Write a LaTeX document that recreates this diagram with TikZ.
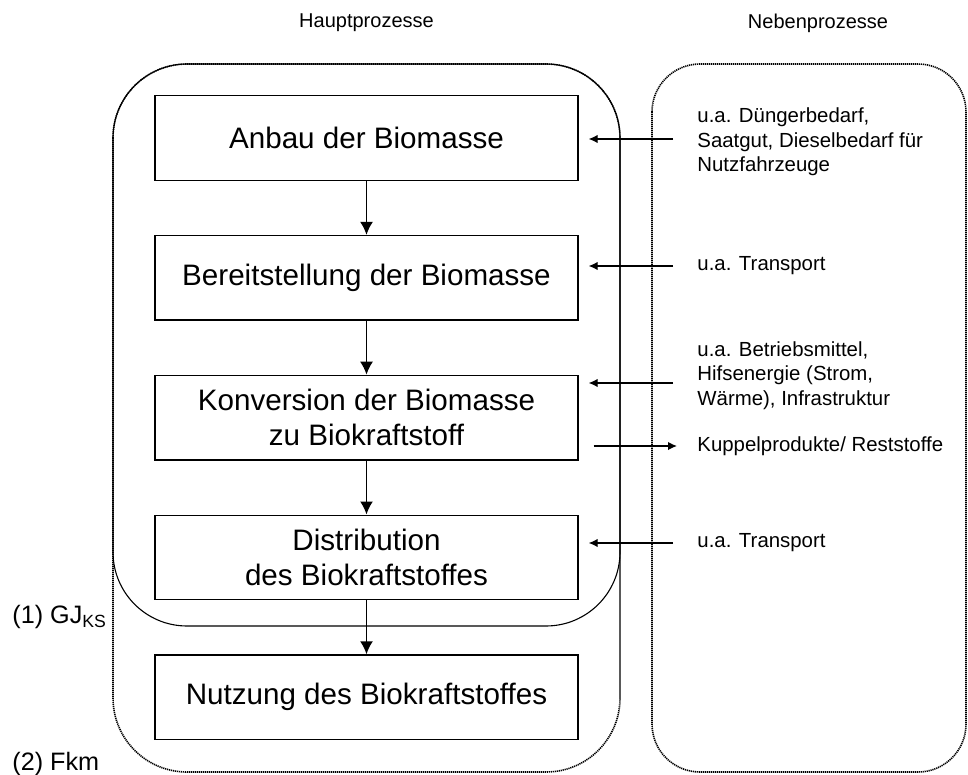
\documentclass[tikz,border=0pt]{standalone}
\usepackage{fontspec}
\setmainfont{Liberation Sans}
\usetikzlibrary{positioning,arrows.meta}

\begin{document}
\begin{tikzpicture}[x=0.5pt, y=0.5pt, node distance=27pt,
    prozess/.style={draw, line width=0.65pt, minimum width=211.5pt, minimum height=42.25pt, inner sep=0pt, align=center, font=\fontsize{14.8}{17.5}\selectfont},
    neben/.style={anchor=west, inner sep=0pt, align=left, font=\fontsize{10.2}{12.2}\selectfont},
    kopf/.style={inner sep=0pt, font=\fontsize{10}{12}\selectfont},
    ebene/.style={anchor=west, inner sep=0pt, font=\fontsize{12.6}{15}\selectfont},
    fluss/.style={-{Latex[length=6.5pt,width=6.5pt]}, line width=0.9pt},
    zufluss/.style={-{Latex[length=4.5pt,width=4.2pt]}, line width=0.65pt},
    punktiert/.style={line width=0.8pt, dash pattern=on 0.6pt off 0.4pt}]
                \useasboundingbox (0,0) rectangle (968,-775);
                % Rahmen
                \draw[punktiert, rounded corners=37pt] (113,-64) rectangle (620,-772);
                \draw[line width=0.55pt, rounded corners=37pt] (113,-64) rectangle (620,-626);
                \draw[punktiert, rounded corners=24pt] (652,-64) rectangle (966,-772);

                \node[kopf] (haupt) at (366.5,-23) {Hauptprozesse};
                \node[kopf] (nebenkopf) at (818,-23) {Nebenprozesse};

                \node[prozess] (anbau) at (366.5,-138) {Anbau der Biomasse};
                \node[prozess, below=of anbau] (bereit) {Bereitstellung der Biomasse};
                \node[prozess, below=of bereit] (konv) {Konversion der Biomasse\\zu Biokraftstoff};
                \node[prozess, below=of konv] (distr) {Distribution\\des Biokraftstoffes};
                \node[prozess, below=of distr] (nutz) {Nutzung des Biokraftstoffes};

                \node[neben] (duenger) at (697,-142) {u.a. Düngerbedarf,\\Saatgut, Dieselbedarf für\\Nutzfahrzeuge};
                \node[neben] (trans1) at (697,-266) {u.a. Transport};
                \node[neben] (betrieb) at (697,-375.5) {u.a. Betriebsmittel,\\Hifsenergie (Strom,\\Wärme), Infrastruktur};
                \node[neben] (kuppel) at (697,-446) {Kuppelprodukte/ Reststoffe};
                \node[neben] (trans2) at (697,-543) {u.a. Transport};

                \node[ebene] (gj) at (12,-617) {(1) GJ\textsubscript{KS}};
                \node[ebene] (fkm) at (12,-764) {(2) Fkm};

                \foreach \a/\b in {anbau/bereit, bereit/konv, konv/distr, distr/nutz}
                    \draw[fluss] (\a) -- (\b);

                \coordinate (z1) at (673,-139);
                \coordinate (z3) at (673,-383);
                \draw[zufluss, shorten >=5pt] (z1) -- (z1 -| anbau.east);
                \draw[zufluss, shorten <=12pt, shorten >=5pt] (trans1.west) -- (trans1.west -| bereit.east);
                \draw[zufluss, shorten >=5pt] (z3) -- (z3 -| konv.east);
                \draw[zufluss, shorten <=7.5pt, shorten >=10pt] (konv.east |- kuppel.west) -- (kuppel.west);
                \draw[zufluss, shorten <=12pt, shorten >=5pt] (trans2.west) -- (trans2.west -| distr.east);
            \end{tikzpicture}
\end{document}
